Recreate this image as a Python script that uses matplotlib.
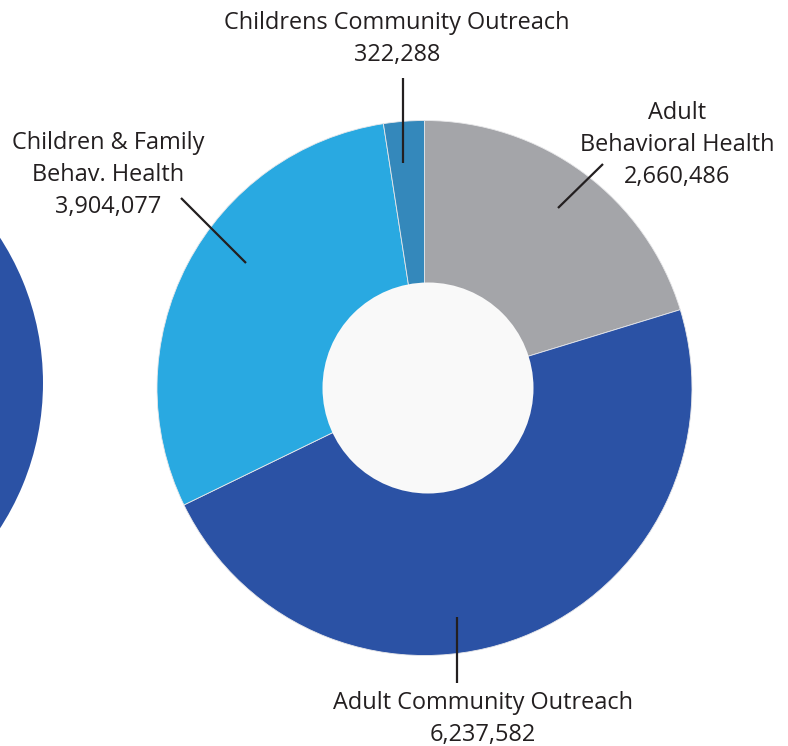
import matplotlib
matplotlib.use("Agg")
import matplotlib.pyplot as plt

W, H = 788, 746
categories = ["Adult\nBehavioral Health", "Adult Community Outreach",
              "Children & Family\nBehav. Health", "Childrens Community Outreach"]
values = [2660486, 6237582, 3904077, 322288]
colors = ["#a4a5a9", "#2b52a5", "#29a9e1", "#3488bb"]
value_labels = ["2,660,486", "6,237,582", "3,904,077", "322,288"]

plt.rcParams['font.family'] = ['Open Sans', 'DejaVu Sans']
TXT = "#231f20"

fig = plt.figure(figsize=(W / 100, H / 100), dpi=100)
ax = fig.add_axes([0, 0, 1, 1])

def py(y):
    return H - y

cx, cy, R = 424.5, py(388), 267.5
# partial neighbouring donut at left
ax.pie([1], colors=["#2b52a5"], center=(-224, py(383)), radius=267,
       wedgeprops=dict(linewidth=0))
ax.pie(values, colors=colors, startangle=90, counterclock=False,
       center=(cx, cy), radius=R,
       wedgeprops=dict(linewidth=0.6, edgecolor="#e8e8ea"))
hole = plt.Circle((428, py(388)), 105.5, color="#f9f9f9", zorder=5, linewidth=0)
ax.add_patch(hole)

ax.set_xlim(0, W)
ax.set_ylim(0, H)
ax.set_aspect('auto')
ax.axis('off')

fs = 16.9
# label text positions (pixel centers) and leader lines
labels = [
    (categories[0] + "\n" + value_labels[0], 677, 145, ((603, 164), (558, 208))),
    (categories[1] + "\n" + value_labels[1], 483, 719, ((457, 617), (457, 683))),
    (categories[2] + "\n" + value_labels[2], 108, 175, ((181, 198), (246, 263))),
    (categories[3] + "\n" + value_labels[3], 397, 39, ((403, 78), (403, 163))),
]
for txt, x, y, (p0, p1) in labels:
    ax.text(x, py(y), txt, ha="center", va="center", fontsize=fs, color=TXT,
            linespacing=1.42, zorder=10)
    ax.plot([p0[0], p1[0]], [py(p0[1]), py(p1[1])], color=TXT, lw=1.6,
            zorder=10, solid_capstyle="butt")

fig.savefig("out.png", dpi=100, facecolor="white")
